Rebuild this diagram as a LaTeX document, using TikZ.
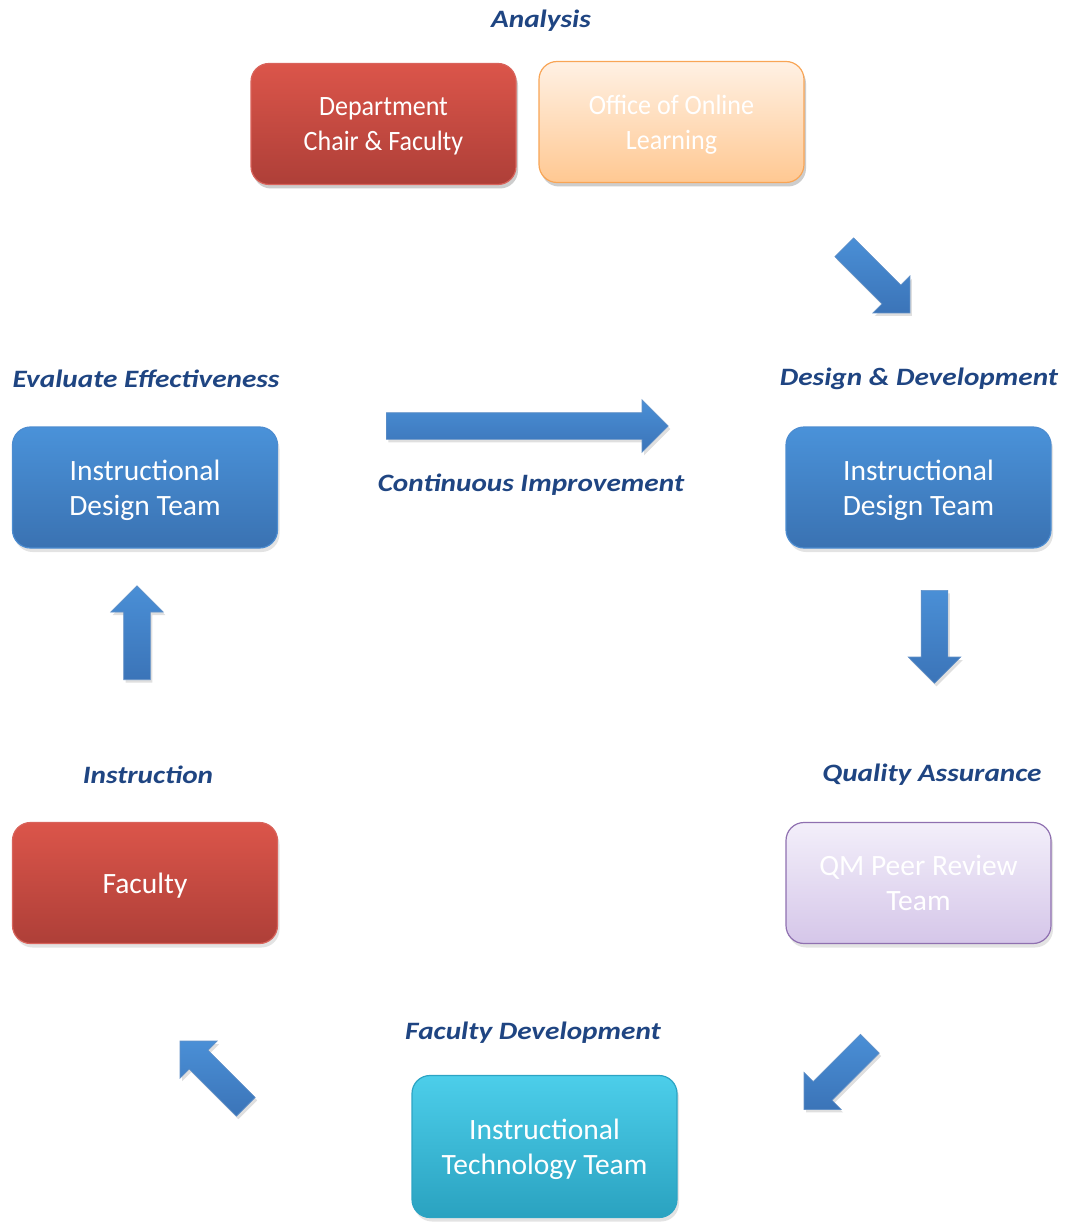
\documentclass[tikz,border=0pt]{standalone}
\usepackage{fontspec}
\setmainfont{Carlito}
\newfontfamily\phasefont[FakeStretch=1.17]{Carlito}
\newfontfamily\narrowfont[FakeStretch=0.93]{Carlito}
\usetikzlibrary{shapes.arrows,shadows}

\definecolor{phaseblue}{HTML}{1F4582}
\definecolor{redtop}{HTML}{DB554A}
\definecolor{redbot}{HTML}{AE3F38}
\definecolor{redline}{HTML}{D8635B}
\definecolor{bluetop}{HTML}{4A92D9}
\definecolor{bluebot}{HTML}{3A72B2}
\definecolor{blueline}{HTML}{4C8CD0}
\definecolor{peachtop}{HTML}{FFF1E4}
\definecolor{peachbot}{HTML}{FFC892}
\definecolor{peachline}{HTML}{F8A556}
\definecolor{lilactop}{HTML}{F3EFFA}
\definecolor{lilacbot}{HTML}{D5C6E9}
\definecolor{lilacline}{HTML}{8F70B0}
\definecolor{cyantop}{HTML}{4CCEEA}
\definecolor{cyanbot}{HTML}{2AA2C0}
\definecolor{cyanline}{HTML}{2CA4C4}
\definecolor{arrowtop}{HTML}{4A8FD6}
\definecolor{arrowbot}{HTML}{3B74B8}

\begin{document}
\begin{tikzpicture}[x=1pt, y=-1pt,
		box/.style={rounded corners=18pt, minimum width=265pt, minimum height=121pt,
			align=center, text=white, line width=1.2pt, text depth=0pt,
			font=\fontsize{29.5}{35}\selectfont,
			drop shadow={shadow xshift=2pt, shadow yshift=-4pt, opacity=0.22}},
		topbox/.style={box, font=\narrowfont\fontsize{28}{35}\selectfont},
		redbox/.style={box, draw=redline, top color=redtop, bottom color=redbot},
		bluebox/.style={box, draw=blueline, top color=bluetop, bottom color=bluebot},
		peachbox/.style={box, draw=peachline, top color=peachtop, bottom color=peachbot},
		lilacbox/.style={box, draw=lilacline, top color=lilactop, bottom color=lilacbot},
		cyanbox/.style={box, draw=cyanline, top color=cyantop, bottom color=cyanbot},
		phase/.style={text=phaseblue, yshift=-2pt,
			font=\phasefont\fontsize{25}{30}\selectfont\bfseries\itshape},
		blockarrow/.style={single arrow, single arrow head extend=13pt, anchor=tail,
			minimum width=52pt, inner xsep=0pt, inner ysep=13pt,
			draw=arrowbot!80, line width=0.6pt, top color=arrowtop, bottom color=arrowbot,
			drop shadow={shadow xshift=2pt, shadow yshift=-3pt, opacity=0.25}}]
	
	\useasboundingbox (0,0) rectangle (1067,1222);
	
	% Analysis
	\node[phase] (analysis) at (541,19) {Analysis};
	\node[redbox, topbox] (chair) at (383.5,124) {Department\\Chair \& Faculty};
	\node[peachbox, topbox] (online) at (671.5,122) {Office of Online\\Learning};
	
	% Design & Development
	\node[phase] (design) at (919,377) {Design \& Development};
	\node[bluebox] (idtright) at (918.5,487.5) {Instructional\\Design Team};
	
	% Quality Assurance
	\node[phase] (quality) at (932,773) {Quality Assurance};
	\node[lilacbox] (qm) at (918.5,883) {QM Peer Review\\Team};
	
	% Faculty Development
	\node[phase] (facdev) at (533,1031) {Faculty Development};
	\node[cyanbox, minimum height=142pt] (itt) at (544.5,1146.5) {Instructional\\Technology Team};
	
	% Instruction
	\node[phase] (instruction) at (148,773) {Instruction};
	\node[redbox] (faculty) at (145,883) {Faculty};
	
	% Evaluate Effectiveness
	\node[phase] (evaluate) at (146,377) {Evaluate Effectiveness};
	\node[bluebox] (idtleft) at (145,487.5) {Instructional\\Design Team};
	
	% Continuous Improvement
	\node[phase] (improve) at (531,483) {Continuous Improvement};
	
	% block arrows round the cycle (placed by their tails)
	\node[blockarrow, minimum height=93pt, rotate=-45] (toDesign) at (844,247) {};
	\node[blockarrow, minimum height=282pt] (toNext) at (386,426) {};
	\node[blockarrow, minimum height=93pt, rotate=-90] (toQuality) at (934.5,590) {};
	\node[blockarrow, minimum height=93pt, rotate=-135] (toFacDev) at (870,1043.5) {};
	\node[blockarrow, minimum height=93pt, rotate=135] (toInstr) at (246,1107) {};
	\node[blockarrow, minimum height=94pt, rotate=90] (toEval) at (137,680) {};
	
\end{tikzpicture}
\end{document}
